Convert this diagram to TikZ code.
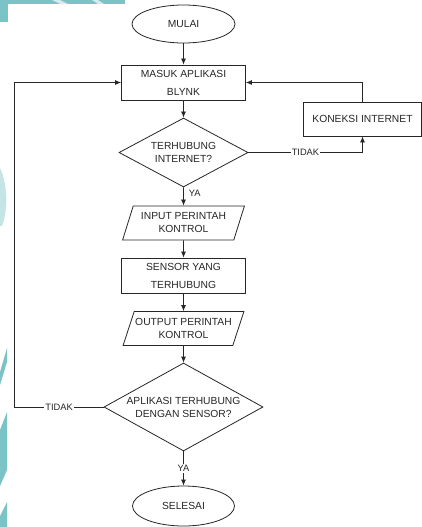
\documentclass[tikz,border=0pt]{standalone}
\usepackage{fontspec}
\setmainfont{Liberation Sans}
\usetikzlibrary{shapes.geometric,arrows.meta}
\definecolor{flowline}{HTML}{262626}
\definecolor{flowtext}{HTML}{262626}
\definecolor{wmcyan}{HTML}{7CC3C8}

\begin{document}
\begin{tikzpicture}[
		x=1pt,y=-1pt,
		every node/.style={draw=flowline,text=flowtext,align=center,line width=0.8pt,font=\fontsize{10.3}{13}\selectfont},
		terminal/.style={ellipse,minimum width=103,minimum height=38,inner sep=0pt},
		process/.style={rectangle,minimum width=124,minimum height=35,inner sep=0pt,font=\fontsize{10.3}{18}\selectfont},
		io/.style={trapezium,trapezium left angle=66,trapezium right angle=114,trapezium stretches=true,minimum width=122,minimum height=34,inner sep=0pt},
		decision/.style={diamond,inner sep=0pt},
		lbl/.style={draw=none,fill=white,inner sep=1pt,font=\fontsize{9.3}{11}\selectfont},
		flow/.style={draw=flowline,line width=0.8pt,-{Latex[length=6pt,width=5pt]}}]
		\useasboundingbox (0,0) rectangle (422,527);
		\fill[white] (0,0) rectangle (422,527);

% background marks along the top and the left side
		\fill[wmcyan] (0,0) rectangle (125,4);
		\fill[wmcyan] (0,0) rectangle (8,22);
		\fill[white!65!wmcyan] (52,0) -- (60,0) -- (68,4) -- (60,4) -- cycle;
		\fill[white!65!wmcyan] (92,0) -- (98,0) -- (104,4) -- (98,4) -- cycle;
		\fill[white!55!wmcyan] (0,168) .. controls (8,185) and (8,210) .. (2,226) -- (0,226) -- cycle;
		\fill[wmcyan] (7,348) -- (7,362) -- (0,385) -- (0,372) -- cycle;
		\fill[wmcyan] (7,412) -- (7,470) -- (0,486) -- (0,430) -- cycle;
		\fill[wmcyan] (7,502) -- (7,527) -- (0,527) -- (0,516) -- cycle;

		\node[terminal] (mulai) at (183.5,24) {MULAI};
		\node[process] (masuk) at (183.5,82.5) {MASUK APLIKASI\\BLYNK};
		\node[decision,minimum width=129,minimum height=69,aspect=1.87] (internet) at (183.5,152.5) {TERHUBUNG\\INTERNET?};
		\node[process,minimum width=118,minimum height=34] (koneksi) at (362.5,119) {KONEKSI INTERNET};
		\node[io] (input) at (183.5,223) {INPUT PERINTAH\\KONTROL};
		\node[process] (sensor) at (183.5,275.5) {SENSOR YANG\\TERHUBUNG};
		\node[io] (output) at (183.5,328.5) {\makebox[80pt]{OUTPUT PERINTAH}\\KONTROL};
		\node[decision,minimum width=159,minimum height=88,aspect=1.8] (aplikasi) at (183.5,407) {APLIKASI TERHUBUNG\\DENGAN SENSOR?};
		\node[terminal,minimum width=102,minimum height=40] (selesai) at (183.5,506) {SELESAI};
		\coordinate (loopleft) at (14.7,407);

		\draw[flow] (mulai) -- (masuk);
		\draw[flow] (masuk) -- (internet);
		\draw[flow] (internet) -- node[lbl,pos=0.3,right=4pt,fill=none]{YA} (input);
		\draw[flow] (input) -- (sensor);
		\draw[flow] (sensor) -- (output);
		\draw[flow] (output) -- (aplikasi);
		\draw[flow] (aplikasi) -- node[lbl]{YA} (selesai);
		\draw[flow] (internet.east) -- node[lbl]{TIDAK} (internet.east -| koneksi) -- (koneksi.south);
		\draw[flow] (koneksi.north) |- (masuk.east);
		\draw[flow] (aplikasi.west) -- node[lbl]{TIDAK} (loopleft) |- (masuk.west);
\end{tikzpicture}
\end{document}
